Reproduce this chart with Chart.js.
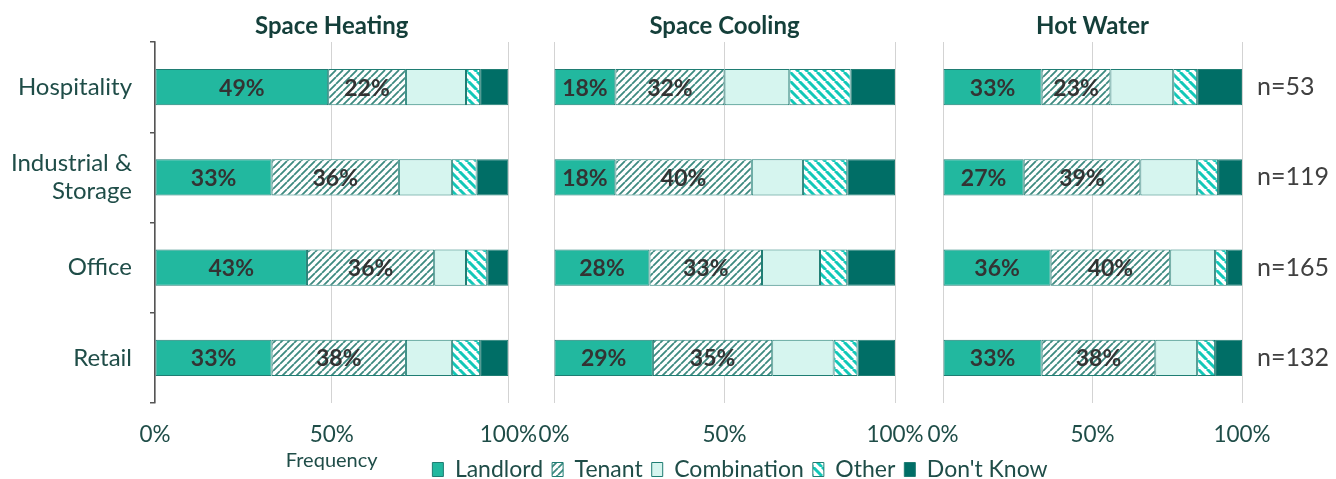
<!DOCTYPE html>
<html><head><meta charset="utf-8">
<script src="https://cdn.jsdelivr.net/npm/chart.js@4.4.0/dist/chart.umd.min.js"></script>
<style>
html,body{margin:0;padding:0;background:#fff;width:1336px;height:479px;overflow:hidden;position:relative;}
canvas{position:absolute;}
</style></head><body>
<canvas id="c1" width="540" height="479" style="left:0;top:0"></canvas>
<canvas id="c2" width="410" height="479" style="left:520px;top:0"></canvas>
<canvas id="c3" width="426" height="479" style="left:910px;top:0"></canvas>
<canvas id="cl" width="700" height="100" style="left:390px;top:440px"></canvas>
<script>
// ---- data ----
const categories = ['Hospitality', ['Industrial &', 'Storage'], 'Office', 'Retail'];
const panelTitles = ['Space Heating', 'Space Cooling', 'Hot Water'];
const seriesNames = ['Landlord', 'Tenant', 'Combination', 'Other', "Don't Know"];
const nLabels = ['n=53', 'n=119', 'n=165', 'n=132'];
const xTickValues = [0, 50, 100];
const axisTitle = 'Frequency';

const heatingLandlord = [49, 33, 43, 33];
const heatingTenant = [22, 36, 36, 38];
const heatingCombination = [17, 15, 9, 13];
const heatingOther = [4, 7, 6, 8];
const heatingDontKnow = [8, 9, 6, 8];

const coolingLandlord = [18, 18, 28, 29];
const coolingTenant = [32, 40, 33, 35];
const coolingCombination = [19, 15, 17, 18];
const coolingOther = [18, 13, 8, 7];
const coolingDontKnow = [13, 14, 14, 11];

const waterLandlord = [33, 27, 36, 33];
const waterTenant = [23, 39, 40, 38];
const waterCombination = [21, 19, 15, 14];
const waterOther = [8, 7, 4, 6];
const waterDontKnow = [15, 8, 5, 9];

// ---- styles ----
Chart.defaults.font.family = 'Lato, "Open Sans", sans-serif';
const textTeal = '#1f4d48';
const titleColor = '#143f3a';
const gridColor = '#d3d3d3';
const segBorder = '#1f7d73';

function stripes(color, size, lw, dir) {
  const c = document.createElement('canvas');
  c.width = size; c.height = size;
  const g = c.getContext('2d');
  g.fillStyle = '#ffffff'; g.fillRect(0, 0, size, size);
  g.strokeStyle = color; g.lineWidth = lw; g.beginPath();
  for (const k of [-size, 0, size]) {
    if (dir === '/') { g.moveTo(k, size); g.lineTo(k + size, 0); }
    else { g.moveTo(k, 0); g.lineTo(k + size, size); }
  }
  g.stroke();
  return g.createPattern(c, 'repeat');
}
const fills = ['#22b89f', stripes('#3d8a80', 7, 1.8, '/'), '#d6f5ef', stripes('#12c8b8', 9, 3, '\\'), '#006e66'];

function makeDatasets(arrs) {
  return arrs.map((d, i) => ({
    label: seriesNames[i], data: d, backgroundColor: fills[i],
    borderColor: segBorder, borderWidth: 1, borderSkipped: false,
    barPercentage: 0.4, categoryPercentage: 1.0
  }));
}

const pctLabels = {
  id: 'pctLabels',
  afterDatasetsDraw(chart) {
    const ctx = chart.ctx;
    ctx.save();
    ctx.font = 'bold 23px Lato, sans-serif';
    ctx.fillStyle = '#333333';
    ctx.textAlign = 'center'; ctx.textBaseline = 'middle';
    [0, 1].forEach(di => {
      const meta = chart.getDatasetMeta(di);
      meta.data.forEach((el, i) => {
        const p = el.getProps(['x', 'base', 'y'], true);
        ctx.fillText(chart.data.datasets[di].data[i] + '%', (p.x + p.base) / 2, p.y + 1);
      });
    });
    ctx.restore();
  }
};

function panel(id, idx, arrs, opts) {
  const showY = idx === 0;
  const scales = {
    x: {
      stacked: true, min: 0, max: 100,
      border: { display: false },
      grid: { color: gridColor, lineWidth: 1, drawTicks: true, tickLength: 15, tickColor: 'rgba(0,0,0,0)' },
      ticks: { stepSize: 50, padding: 3, color: textTeal, font: { size: 22.5 },
        callback: v => xTickValues.includes(v) ? v + '%' : '' },
      title: { display: showY, text: axisTitle, color: textTeal, font: { size: 20 }, padding: { top: 0, bottom: 6 } },
      afterFit: s => { s.height = 76; }
    },
    y: {
      stacked: true, display: showY, offset: true,
      border: { display: true, color: '#555555', width: 1.5 },
      grid: { display: true, drawOnChartArea: false, drawTicks: true, tickLength: 5, color: '#555555', lineWidth: 1.5 },
      ticks: { padding: 18, color: textTeal, font: { size: 24, lineHeight: 1.15 } }
    }
  };
  if (showY) scales.y.afterFit = s => { s.width = 155; };
  if (opts.nAxis) {
    scales.n = {
      type: 'category', labels: nLabels, position: 'right', offset: true,
      border: { display: false }, grid: { display: false, drawTicks: false },
      ticks: { padding: 15, color: '#404040', font: { size: 25 } },
      afterFit: s => { s.width = 94; }
    };
  }
  return new Chart(document.getElementById(id), {
    type: 'bar',
    data: { labels: categories, datasets: makeDatasets(arrs) },
    options: {
      indexAxis: 'y', responsive: false, animation: false,
      layout: { padding: opts.padding },
      scales,
      plugins: {
        legend: { display: false }, tooltip: { enabled: false },
        title: { display: true, text: panelTitles[idx], fullSize: false, color: titleColor,
          font: { size: 24, weight: 'bold' }, padding: { top: 12, bottom: 1.2 } }
      }
    },
    plugins: [pctLabels]
  });
}

panel('c1', 0, [heatingLandlord, heatingTenant, heatingCombination, heatingOther, heatingDontKnow], { padding: { left: 0, right: 30, top: 0, bottom: 0 } });
panel('c2', 1, [coolingLandlord, coolingTenant, coolingCombination, coolingOther, coolingDontKnow], { padding: { left: 34, right: 35, top: 0, bottom: 0 } });
panel('c3', 2, [waterLandlord, waterTenant, waterCombination, waterOther, waterDontKnow], { padding: { left: 33, right: 0, top: 0, bottom: 0 }, nAxis: true });

new Chart(document.getElementById('cl'), {
  type: 'bar',
  data: { labels: [], datasets: seriesNames.map((n, i) => ({ label: n, data: [], backgroundColor: fills[i], borderColor: segBorder, borderWidth: 1 })) },
  options: {
    responsive: false, animation: false,
    layout: { padding: { top: 9 } },
    scales: { x: { display: false }, y: { display: false } },
    plugins: {
      tooltip: { enabled: false },
      legend: { display: true, position: 'top', align: 'center',
        labels: { boxWidth: 11, boxHeight: 14, padding: 9, color: textTeal, font: { size: 23 } } }
    }
  }
});
</script>
</body></html>
